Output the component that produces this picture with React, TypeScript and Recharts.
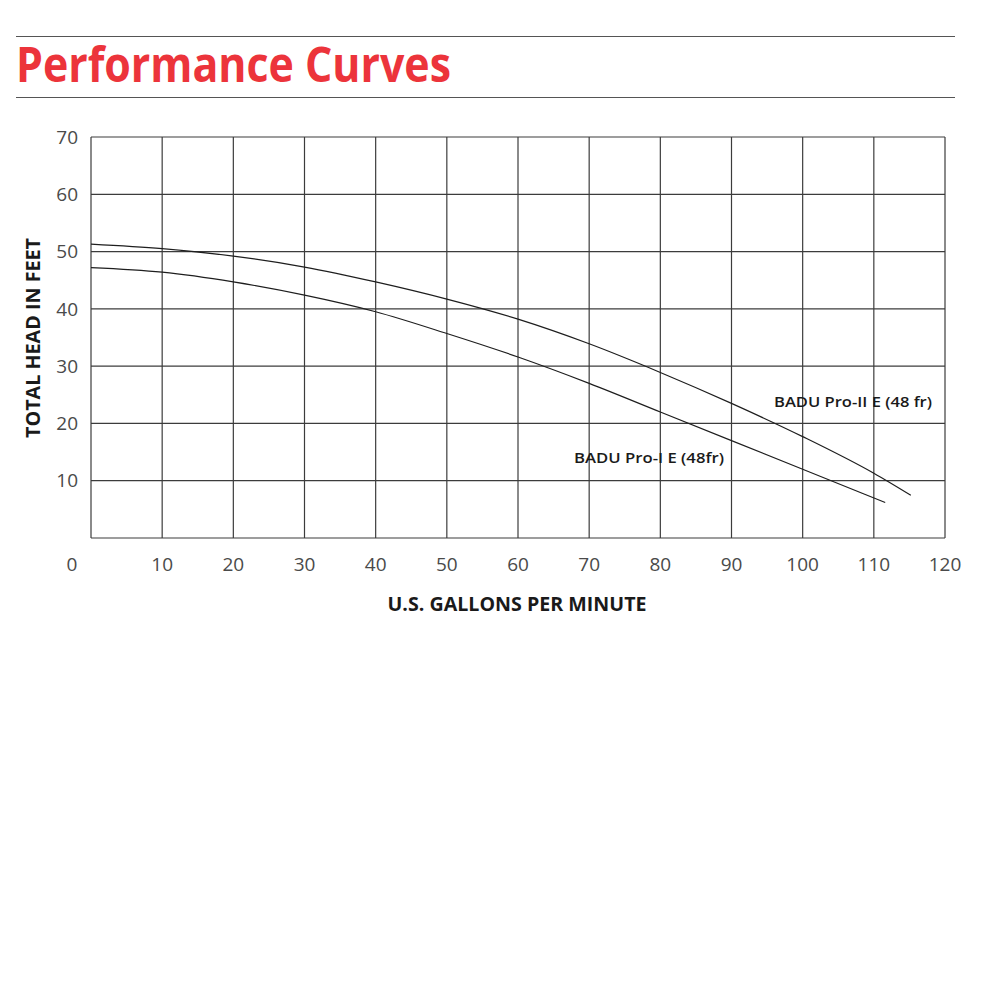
import React from 'react';
import { LineChart, Line, XAxis, YAxis, CartesianGrid } from 'recharts';

const xTicks = [0, 10, 20, 30, 40, 50, 60, 70, 80, 90, 100, 110, 120];
const yTicks = [0, 10, 20, 30, 40, 50, 60, 70];

const pro2Gpm = [0, 10, 20, 30, 40, 50, 60, 70, 80, 90, 100, 110, 115.2];
const pro2Head = [51.3, 50.5, 49.2, 47.3, 44.7, 41.7, 38.2, 33.9, 28.9, 23.5, 17.7, 11.3, 7.45];

const pro1Gpm = [0, 10, 20, 30, 40, 50, 60, 70, 80, 90, 100, 111.6];
const pro1Head = [47.2, 46.4, 44.7, 42.4, 39.5, 35.7, 31.6, 27.0, 22.0, 17.0, 12.0, 6.2];

const pro2Data = pro2Gpm.map((g, i) => ({ gpm: g, head: pro2Head[i] }));
const pro1Data = pro1Gpm.map((g, i) => ({ gpm: g, head: pro1Head[i] }));

const tickFont = { fontFamily: 'Open Sans', fontSize: 19, fill: '#4a4a4a' };

const renderXTick = (props: any) => {
  const { x, y, payload } = props;
  const dx = payload.value === 0 ? -19 : 0;
  return (
    <text key={'x' + payload.value} x={x + dx} y={y} dy="0.71em" textAnchor="middle" {...tickFont}>
      {payload.value}
    </text>
  );
};

const renderYTick = (props: any) => {
  const { x, y, payload } = props;
  if (payload.value === 0) return <g key="y0" />;
  return (
    <text key={'y' + payload.value} x={x} y={y} dy="0.355em" textAnchor="end" {...tickFont}>
      {payload.value}
    </text>
  );
};

export default function App() {
  return (
    <div style={{ position: 'absolute', left: 0, top: 0, width: 1000, height: 1000, background: '#fff' }}>
      <LineChart
        width={1000}
        height={1000}
        margin={{ top: 137, bottom: 402, left: 0, right: 55 }}
      >
        <CartesianGrid stroke="#3c3c3c" strokeWidth={1.2} />
        <XAxis
          type="number"
          dataKey="gpm"
          domain={[0, 120]}
          ticks={xTicks}
          allowDataOverflow
          axisLine={false}
          tickLine={false}
          tickSize={0}
          tickMargin={20}
          height={60}
          tick={renderXTick}
          interval={0}
        />
        <YAxis
          type="number"
          dataKey="head"
          domain={[0, 70]}
          ticks={yTicks}
          allowDataOverflow
          axisLine={false}
          tickLine={false}
          tickSize={0}
          tickMargin={13}
          width={91}
          tick={renderYTick}
          interval={0}
        />
        <Line
          data={pro2Data}
          dataKey="head"
          type="monotone"
          stroke="#1e1e1e"
          strokeWidth={1.2}
          dot={false}
          isAnimationActive={false}
        />
        <Line
          data={pro1Data}
          dataKey="head"
          type="monotone"
          stroke="#1e1e1e"
          strokeWidth={1.2}
          dot={false}
          isAnimationActive={false}
        />
      </LineChart>
      <svg
        width={1000}
        height={1000}
        style={{ position: 'absolute', left: 0, top: 0, pointerEvents: 'none' }}
      >
        <line x1={16} x2={955} y1={36.5} y2={36.5} stroke="#555" strokeWidth={1.2} />
        <line x1={16} x2={955} y1={97.5} y2={97.5} stroke="#555" strokeWidth={1.2} />
        <text
          x={16}
          y={82}
          fontFamily="Open Sans"
          fontWeight={700}
          fontSize={49}
          fill="#ec343b"
          textLength={435}
          lengthAdjust="spacingAndGlyphs"
        >
          Performance Curves
        </text>
        <text
          transform="translate(40,338) rotate(-90)"
          textAnchor="middle"
          fontFamily="Open Sans"
          fontWeight={700}
          fontSize={19}
          fill="#1a1a1a"
          textLength={200}
          lengthAdjust="spacingAndGlyphs"
        >
          TOTAL HEAD IN FEET
        </text>
        <text
          x={517}
          y={611}
          textAnchor="middle"
          fontFamily="Open Sans"
          fontWeight={700}
          fontSize={19}
          fill="#1a1a1a"
          textLength={259}
          lengthAdjust="spacingAndGlyphs"
        >
          U.S. GALLONS PER MINUTE
        </text>
        <text
          x={774}
          y={406.5}
          fontFamily="Open Sans"
          fontWeight={600}
          fontSize={15}
          fill="#1a1a1a"
          textLength={158}
          lengthAdjust="spacingAndGlyphs"
        >
          BADU Pro-II E (48 fr)
        </text>
        <text
          x={574}
          y={462.5}
          fontFamily="Open Sans"
          fontWeight={600}
          fontSize={15}
          fill="#1a1a1a"
          textLength={150}
          lengthAdjust="spacingAndGlyphs"
        >
          BADU Pro-I E (48fr)
        </text>
      </svg>
    </div>
  );
}
